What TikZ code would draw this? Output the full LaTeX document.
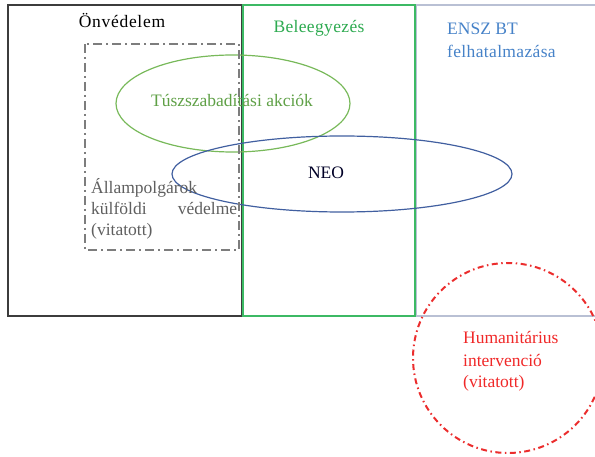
\documentclass[tikz,border=0pt]{standalone}
\usepackage{fontspec}
\setmainfont{Liberation Serif}
\definecolor{boxblack}{RGB}{60,60,60}
\definecolor{boxgreen}{RGB}{60,185,100}
\definecolor{boxgray}{RGB}{185,192,212}
\definecolor{dashgray}{RGB}{125,125,125}
\definecolor{ellgreen}{RGB}{120,185,90}
\definecolor{ellblue}{RGB}{65,95,160}
\definecolor{circred}{RGB}{235,45,45}
\definecolor{txtgreen}{RGB}{45,170,80}
\definecolor{txtblue}{RGB}{70,130,200}
\definecolor{txttus}{RGB}{95,160,70}
\definecolor{txtgray}{RGB}{95,95,95}
\definecolor{txtred}{RGB}{240,40,40}
\begin{document}
\begin{tikzpicture}[x=1pt,y=-1pt,
  lbl/.style={inner sep=0pt,font=\fontsize{17.5}{21}\selectfont},
  dashdot/.style={dash pattern=on 9pt off 4pt on 2pt off 4pt}]
\useasboundingbox (0,0) rectangle (595,457);
% rectangles
\draw[boxgray,line width=1.5pt] (416.5,5) rectangle (605,316);
\draw[boxblack,line width=1.9pt] (8,5) rectangle (241.5,316);
\draw[boxgreen,line width=1.9pt] (243.3,5) rectangle (414.8,316);
% ellipses
\draw[ellgreen,line width=1.2pt] (233,103.5) ellipse [x radius=117pt, y radius=48.5pt];
\draw[ellblue,line width=1.2pt] (342,174) ellipse [x radius=170pt, y radius=38pt];
% dash-dot rectangle
\draw[dashgray,line width=2.6pt,dashdot] (85,44) rectangle (239,250);
% red circle
\draw[circred,line width=2pt,dash pattern=on 6pt off 3.5pt on 1.5pt off 3.5pt] (508,358) circle [radius=95pt];
% texts
\node[lbl,anchor=base,text=black] (onv) at (122,28) {\addfontfeatures{LetterSpace=4}Önvédelem};
\node[lbl,anchor=base,text=txtgreen] (bel) at (319,33) {\addfontfeatures{LetterSpace=2}Beleegyezés};
\node[lbl,anchor=base west,text=txtblue] (ensz1) at (447,35) {ENSZ BT};
\node[lbl,anchor=base west,text=txtblue] (ensz2) at (447,58) {\addfontfeatures{LetterSpace=2}felhatalmazása};
\node[lbl,anchor=base,text=txttus] (tusz) at (232,107) {Túszszabadítási akciók};
\node[lbl,anchor=base,text=black!85!blue] (neo) at (326,179) {NEO};
\node[lbl,anchor=base west,text=txtgray] (all1) at (91,194) {Állampolgárok};
\node[lbl,anchor=base west,text=txtgray,text width=146pt] (all2) at (91,215) {külföldi\hfill védelme};
\node[lbl,anchor=base west,text=txtgray] (all3) at (91,236) {(vitatott)};
\node[lbl,anchor=base west,text=txtred] (hum1) at (463,344) {Humanitárius};
\node[lbl,anchor=base west,text=txtred] (hum2) at (463,366.5) {intervenció};
\node[lbl,anchor=base west,text=txtred] (hum3) at (463,388) {(vitatott)};
\end{tikzpicture}
\end{document}
